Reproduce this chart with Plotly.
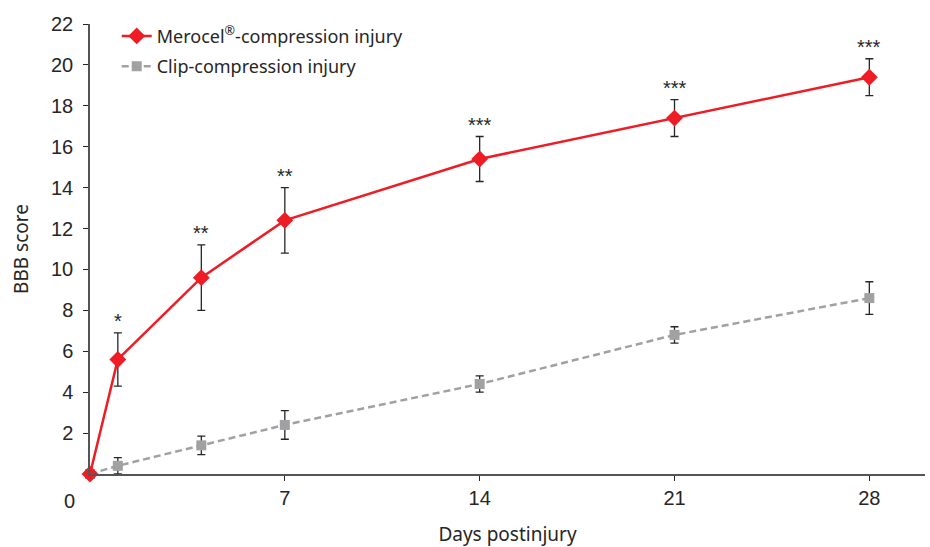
import plotly.graph_objects as go

days = [0, 1, 4, 7, 14, 21, 28]
merocel = [0, 5.6, 9.6, 12.4, 15.4, 17.4, 19.4]
merocel_err = [0, 1.3, 1.6, 1.6, 1.1, 0.9, 0.9]
clip = [0, 0.4, 1.4, 2.4, 4.4, 6.8, 8.6]
clip_err = [0, 0.4, 0.45, 0.7, 0.4, 0.4, 0.8]
stars = ["", "*", "**", "**", "***", "***", "***"]
x_ticks = [7, 14, 21, 28]
y_ticks = [2, 4, 6, 8, 10, 12, 14, 16, 18, 20, 22]

RED = "#ee1c25"
GREY = "#a1a1a3"
INK = "#262626"

fig = go.Figure()
fig.add_trace(go.Scatter(
    x=days, y=clip, mode="lines+markers", name="Clip-compression injury",
    legendgroup="b", legendrank=2,
    line=dict(color=GREY, width=2.5, dash="7px,4px"),
    marker=dict(symbol="square", size=10, color=GREY),
    error_y=dict(type="data", array=clip_err, color=INK, thickness=1.3, width=4),
    cliponaxis=False,
))
fig.add_trace(go.Scatter(
    x=days, y=merocel, mode="lines+markers", name="Merocel<sup>®</sup>-compression injury",
    legendgroup="a", legendrank=1,
    line=dict(color=RED, width=2.5),
    marker=dict(symbol="diamond", size=13, color=RED),
    error_y=dict(type="data", array=merocel_err, color=INK, thickness=1.3, width=4),
    cliponaxis=False,
))

for d, m, e, s in zip(days, merocel, merocel_err, stars):
    if s:
        fig.add_annotation(x=d, y=m + e, text=s, showarrow=False, yanchor="bottom",
                           yshift=-1, font=dict(family="Liberation Sans", size=20, color=INK))

fig.add_annotation(x=0, xref="paper", y=0, yref="y", text="0", showarrow=False,
                   xanchor="right", yanchor="top", xshift=-13, yshift=-14,
                   font=dict(family="Liberation Sans", size=20, color=INK))

fig.update_layout(
    width=930, height=547,
    margin=dict(l=90, r=5, t=24, b=73),
    paper_bgcolor="white", plot_bgcolor="white",
    showlegend=True,
    legend=dict(x=0.032, y=1.014, xanchor="left", yanchor="top", traceorder="grouped",
                tracegroupgap=4, bgcolor="rgba(0,0,0,0)",
                font=dict(family="Noto Sans", size=18, color=INK)),
    xaxis=dict(range=[0, 30], tickvals=x_ticks, ticks="outside", ticklen=5,
               tickcolor=INK, showline=True, linecolor="#555", linewidth=1.5,
               showgrid=False, zeroline=False, automargin=False,
               tickfont=dict(family="Liberation Sans", size=20, color=INK),
               title=dict(text="Days postinjury", standoff=20,
                          font=dict(family="Noto Sans", size=19, color=INK))),
    yaxis=dict(range=[0, 22], tickvals=y_ticks, ticks="outside", ticklen=5,
               ticklabelstandoff=6,
               tickcolor=INK, showline=True, linecolor="#555", linewidth=1.5,
               showgrid=False, zeroline=False, automargin=False,
               tickfont=dict(family="Liberation Sans", size=20, color=INK),
               title=dict(text="BBB score", standoff=17,
                          font=dict(family="Noto Sans", size=19, color=INK))),
)

fig.write_html("out.html", config={"displayModeBar": False},
               post_script="document.body.style.margin='0';")
